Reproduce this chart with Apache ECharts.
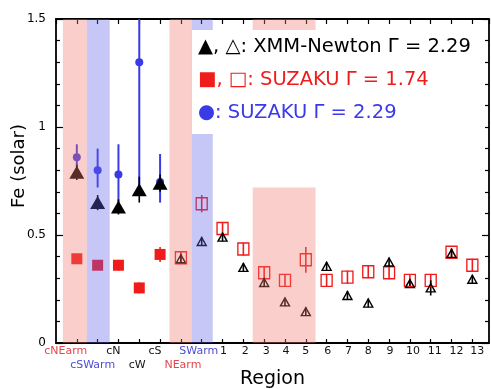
<!DOCTYPE html>
<html><head><meta charset="utf-8">
<script src="https://cdn.jsdelivr.net/npm/echarts@6/dist/echarts.min.js"></script>
<style>html,body{margin:0;padding:0;background:#fff}#c{width:491px;height:389px}</style>
</head><body><div id="c"></div>
<script>
// ---- data ----
const categories = ['cNEarm','cSWarm','cN','cW','cS','NEarm','SWarm','1','2','3','4','5','6','7','8','9','10','11','12','13'];
const labelRow = [1,2,1,2,1,2,1,1,1,1,1,1,1,1,1,1,1,1,1,1];
const labelTone = ['r','b','k','k','k','r','b','k','k','k','k','k','k','k','k','k','k','k','k','k'];
const nCentral = 5; // first five regions: filled symbols

// XMM-Newton, Gamma = 2.29 (triangles)
const xmm    = [0.79,0.65,0.63,0.71,0.74,0.39,0.47,0.49,0.35,0.28,0.19,0.145,0.355,0.22,0.185,0.375,0.275,0.255,0.415,0.295];
const xmmErr = [0.035,0.035,0.035,0.06,0.04,0.02,0.02,0.02,0.02,0.02,0.02,0.02,0.02,0.02,0.02,0.02,0.02,0.035,0.02,0.02];
// SUZAKU, Gamma = 1.74 (squares)
const suzaku174    = [0.39,0.36,0.36,0.255,0.41,0.395,0.645,0.53,0.435,0.325,0.29,0.385,0.29,0.305,0.33,0.325,0.29,0.29,0.42,0.36];
const suzaku174Err = [0.02,0.02,0.025,0.025,0.035,0.03,0.04,0.03,0.03,0.03,0.03,0.06,0.03,0.03,0.03,0.03,0.03,0.03,0.02,0.03];
// SUZAKU, Gamma = 2.29 (circles, central regions only)
const suzaku229   = [0.86,0.80,0.78,1.30,0.745];
const suzaku229Lo = [0.79,0.72,0.65,0.72,0.65];
const suzaku229Hi = [0.92,0.90,0.92,1.65,0.875];
// shaded region bands: [xStart, xEnd, yStart, yEnd, tone]
const bands = [[-0.67,0.48,0,1.5,'r'],[0.48,1.58,0,1.5,'b'],[4.45,5.52,0,1.5,'r'],[5.52,6.53,0,1.5,'b'],[8.45,11.47,0,0.72,'r'],[8.45,11.47,0.97,1.5,'r']];
const yTicks = {min:0, max:1.5, interval:0.5};

// ---- styles ----
const RED = '#f01c1c', BLUE = '#3a3ae6', BLACK = '#000';
const bandFill = {r:'rgba(242,118,108,0.36)', b:'rgba(100,100,232,0.36)'};
const toneColor = {r:'#e2474d', b:'#4d4dd4', k:'#111'};
const labelShift = [-11,-5,-5,-2,-5,2,-3,1,2,2,1,0,1,1,0,1,3,4,5,5]; // px offset of each tick label
const FONT = '"DejaVu Sans", sans-serif';

const chart = echarts.init(document.getElementById('c'), null, {renderer:'canvas'});

function pts(arr, from, to){ const o=[]; for(let i=from;i<to;i++) o.push([i, arr[i]]); return o; }
function errs(vals, err, from, to){ const o=[]; for(let i=from;i<to;i++) o.push([i, vals[i]-err[i], vals[i]+err[i]]); return o; }
function errBar(data, color, w){
  return {type:'custom', data, z:2, clip:true, silent:true,
    renderItem(params, api){
      const a = api.coord([api.value(0), api.value(1)]);
      const b = api.coord([api.value(0), api.value(2)]);
      return {type:'line', shape:{x1:a[0],y1:a[1],x2:b[0],y2:b[1]}, style:{stroke:color, lineWidth:w}};
    }};
}
const axisLine = {show:true, onZero:false, lineStyle:{color:'#000', width:1.8}};
const rich = {};
categories.forEach((c,i)=>{
  const s = labelShift[i];
  rich['l'+i] = {color:toneColor[labelTone[i]], fontFamily:FONT, fontSize:11, lineHeight:14,
    padding: s<0 ? [0,-2*s,0,0] : [0,0,0,2*s]};
});

const option = {
  animation:false,
  grid:{left:56, right:2, top:19, bottom:46, containLabel:false, outerBoundsMode:'none'},
  xAxis:[{
    type:'value', min:-1, max:19.8, interval:1, position:'bottom',
    axisLine, splitLine:{show:false},
    axisTick:{show:true, inside:true, length:4, lineStyle:{color:'#000', width:1.2}},
    axisLabel:{show:true, margin:1, fontFamily:FONT, fontSize:11, lineHeight:14, showMaxLabel:false, showMinLabel:false,
      formatter(v){
        const i = Math.round(v);
        if (Math.abs(v-i)>1e-6 || i<0 || i>=categories.length) return '';
        const s = '{l'+i+'|'+categories[i]+'}';
        return labelRow[i]===2 ? '\n'+s : s;
      },
      rich},
    name:'Region', nameLocation:'middle', nameGap:27, nameMoveOverlap:false,
    nameTextStyle:{fontFamily:FONT, fontSize:19, color:'#000'}
  },{
    type:'value', min:-1, max:19.8, interval:1, position:'top',
    axisLine, splitLine:{show:false}, axisLabel:{show:false},
    axisTick:{show:true, inside:true, length:5, lineStyle:{color:'#000', width:1.2}}
  }],
  yAxis:[{
    type:'value', min:yTicks.min, max:yTicks.max, interval:yTicks.interval, position:'left',
    axisLine, splitLine:{show:false}, minorSplitLine:{show:false},
    axisTick:{show:true, inside:true, length:7, lineStyle:{color:'#000', width:1.2}},
    minorTick:{show:true, splitNumber:5, length:4, lineStyle:{color:'#000', width:1.2}},
    axisLabel:{margin:10, fontFamily:FONT, fontSize:12, color:'#000'},
    name:'Fe (solar)', nameLocation:'middle', nameGap:28, nameRotate:90, nameMoveOverlap:false,
    nameTextStyle:{fontFamily:FONT, fontSize:18, color:'#000', padding:[0,0,0,30]}
  },{
    type:'value', min:yTicks.min, max:yTicks.max, interval:yTicks.interval, position:'right',
    axisLine, splitLine:{show:false}, axisLabel:{show:false},
    axisTick:{show:true, inside:true, length:7, lineStyle:{color:'#000', width:1.2}},
    minorTick:{show:true, splitNumber:5, length:4, lineStyle:{color:'#000', width:1.2}}
  }],
  graphic:[
    {type:'rect', left:192, top:30, z:100, shape:{width:293, height:104}, style:{fill:'#fff'}},
    {type:'text', left:198, top:37, z:101, style:{text:'▲, △: XMM-Newton Γ = 2.29', font:'19.5px '+FONT, fill:BLACK}},
    {type:'text', left:198, top:70, z:101, style:{text:'■, □: SUZAKU Γ = 1.74', font:'19.5px '+FONT, fill:RED}},
    {type:'text', left:198, top:103, z:101, style:{text:'●: SUZAKU Γ = 2.29', font:'19.5px '+FONT, fill:BLUE}}
  ],
  series:[
    errBar(errs(suzaku174, suzaku174Err, 0, categories.length), RED, 1.6),
    {type:'scatter', name:'SUZAKU 1.74 central', data:pts(suzaku174,0,nCentral), symbol:'rect', symbolSize:[11,11], z:2,
      itemStyle:{color:RED, opacity:1}},
    {type:'scatter', name:'SUZAKU 1.74', data:pts(suzaku174,nCentral,categories.length), symbol:'rect', symbolSize:[11,12], z:2,
      itemStyle:{color:'rgba(0,0,0,0)', borderColor:RED, borderWidth:1.4, opacity:1}},
    errBar(suzaku229.map((v,i)=>[i, suzaku229Lo[i], suzaku229Hi[i]]), BLUE, 2),
    {type:'scatter', name:'SUZAKU 2.29', data:pts(suzaku229,0,suzaku229.length), symbol:'circle', symbolSize:8, z:2,
      itemStyle:{color:BLUE, opacity:1}},
    errBar(errs(xmm, xmmErr, 0, categories.length), BLACK, 1.6),
    {type:'scatter', name:'XMM central', data:pts(xmm,0,nCentral), symbol:'triangle', symbolSize:[15,13], z:2,
      itemStyle:{color:BLACK, opacity:1}},
    {type:'scatter', name:'XMM', data:pts(xmm,nCentral,categories.length), symbol:'triangle', symbolSize:[9,8], z:2,
      itemStyle:{color:'rgba(0,0,0,0)', borderColor:BLACK, borderWidth:1.4, opacity:1}},
    {type:'custom', name:'bands', data:bands.map(b=>[b[0],b[1],b[2],b[3]]), z:3, silent:true,
      renderItem(params, api){
        const b = bands[params.dataIndex];
        const p0 = api.coord([api.value(0), api.value(3)]);
        const p1 = api.coord([api.value(1), api.value(2)]);
        return {type:'rect', shape:{x:p0[0], y:p0[1], width:p1[0]-p0[0], height:p1[1]-p0[1]}, style:{fill:bandFill[b[4]]}};
      }}
  ]
};
chart.setOption(option);
</script></body></html>
